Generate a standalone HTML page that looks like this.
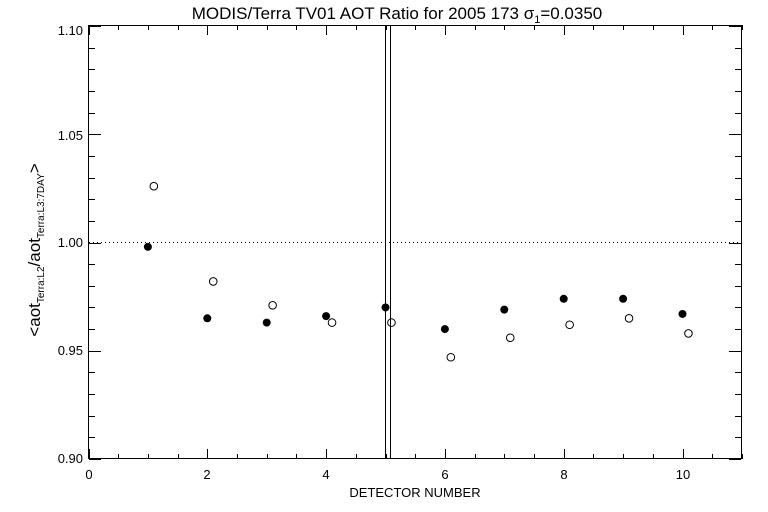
<!DOCTYPE html>
<html><head><style>body{margin:0;background:#fff}svg{display:block}text{font-family:"Liberation Sans",sans-serif;fill:#000}</style></head>
<body>
<svg width="768" height="512" viewBox="0 0 768 512" xmlns="http://www.w3.org/2000/svg">
<rect x="88.5" y="25.5" width="653" height="433" fill="none" stroke="#000" stroke-width="1"/>
<g id="ticks" stroke="#000" stroke-width="1"></g>
<line x1="89" y1="242.5" x2="741" y2="242.5" stroke="#000" stroke-dasharray="1,3"/>
<line x1="385.5" y1="25" x2="385.5" y2="459" stroke="#000"/>
<line x1="390.5" y1="25" x2="390.5" y2="459" stroke="#000"/>
<g id="pts"></g>
<text x="397" y="19" font-size="17" text-anchor="middle">MODIS/Terra TV01 AOT Ratio for 2005 173 σ<tspan font-size="11" dy="4">1</tspan><tspan dy="-4">=0.0350</tspan></text>
<text x="415" y="497" font-size="13" text-anchor="middle">DETECTOR NUMBER</text>
<g font-size="13" text-anchor="end">
<text x="83" y="35">1.10</text><text x="83" y="140">1.05</text><text x="83" y="247">1.00</text><text x="83" y="355">0.95</text><text x="83" y="463">0.90</text>
</g>
<g font-size="13" text-anchor="middle">
<text x="89" y="479">0</text><text x="207" y="479">2</text><text x="326" y="479">4</text><text x="445" y="479">6</text><text x="564" y="479">8</text><text x="683" y="479">10</text>
</g>
<text transform="translate(40,250) rotate(-90)" font-size="17" text-anchor="middle">&lt;aot<tspan font-size="10" dy="4">Terra:L2</tspan><tspan dy="-4">/aot</tspan><tspan font-size="10" dy="4">Terra:L3:7DAY</tspan><tspan dy="-4">&gt;</tspan></text>
</svg>
<script>
var ns="http://www.w3.org/2000/svg";
function X(v){return 88.5+v*59.4}function Y(v){return 242.5-(v-1)*2165}
var t=document.getElementById("ticks");
function ln(a,b,c,d){var l=document.createElementNS(ns,"line");l.setAttribute("x1",a);l.setAttribute("y1",b);l.setAttribute("x2",c);l.setAttribute("y2",d);t.appendChild(l);}
for(var i=0;i<=22;i++){var x=Math.round(X(i*0.5))+0.5,L=(i%4==0)?10:5;ln(x,459,x,459-L);ln(x,25,x,25+L);}
for(var j=0;j<=20;j++){var y=Math.round(Y(0.9+j*0.01))+0.5,L=(j%5==0)?12:6;ln(89,y,89+L,y);ln(741,y,741-L,y);}
var f=[0.998,0.965,0.963,0.966,0.970,0.960,0.969,0.974,0.974,0.967];
var o=[1.026,0.982,0.971,0.963,0.963,0.947,0.956,0.962,0.965,0.958];
var p=document.getElementById("pts");
for(var k=0;k<10;k++){var c=document.createElementNS(ns,"circle");c.setAttribute("cx",X(k+1));c.setAttribute("cy",Y(f[k]));c.setAttribute("r",4);c.setAttribute("fill","#000");p.appendChild(c);
var d=document.createElementNS(ns,"circle");d.setAttribute("cx",X(k+1.1));d.setAttribute("cy",Y(o[k]));d.setAttribute("r",3.8);d.setAttribute("fill","none");d.setAttribute("stroke","#000");p.appendChild(d);}
</script>
</body></html>
